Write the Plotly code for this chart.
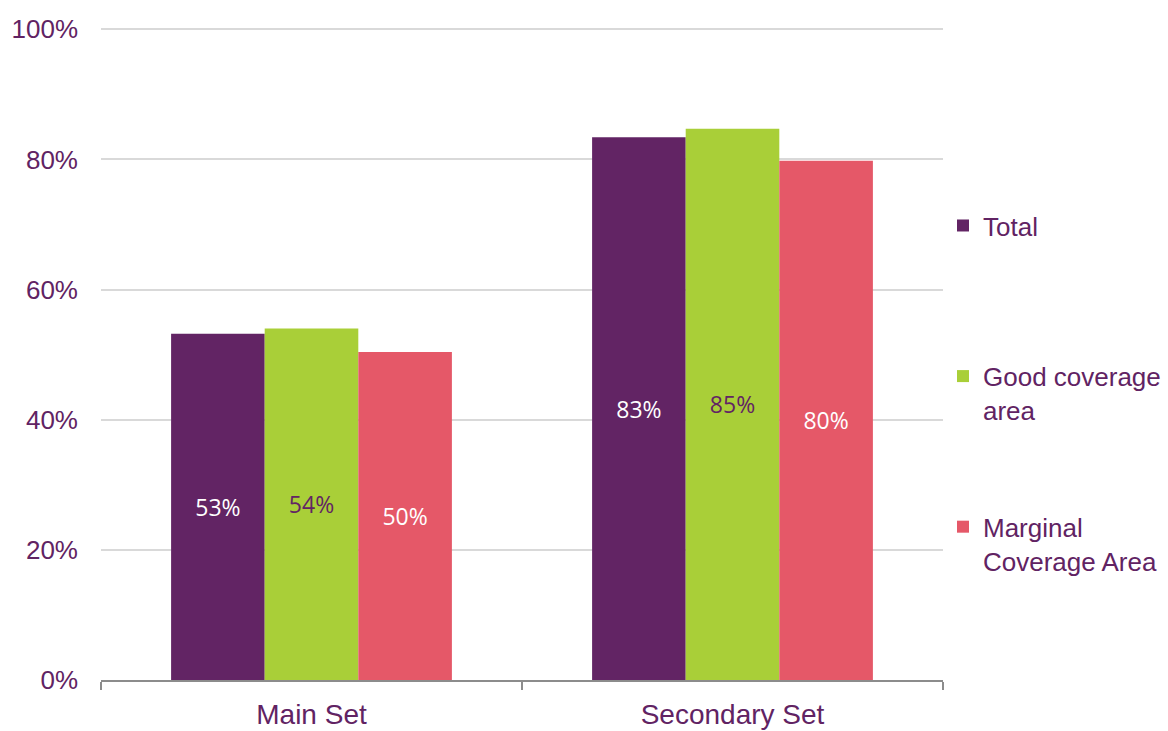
import plotly.graph_objects as go

# Coverage share by set and area type
categories = ["Main Set", "Secondary Set"]
series_names = ["Total<br> ", "Good coverage<br>area", "Marginal<br>Coverage Area"]
total = [0.532, 0.834]
good_coverage = [0.540, 0.847]
marginal_coverage = [0.504, 0.798]

bar_colors = ["#622464", "#A9CF38", "#E55868"]
label_colors = ["#FFFFFF", "#622464", "#FFFFFF"]
text_purple = "#612363"

fig = go.Figure()
for name, values, color, lcolor in zip(
    series_names, [total, good_coverage, marginal_coverage], bar_colors, label_colors
):
    fig.add_trace(
        go.Bar(
            x=categories,
            y=values,
            name=name,
            legendgroup=name,
            marker=dict(color=color, line=dict(width=0)),
            texttemplate="%{y:.0%}",
            textposition="inside",
            insidetextanchor="middle",
            textangle=0,
            textfont=dict(family="Open Sans", size=23, color=lcolor),
        )
    )

fig.update_layout(
    width=1168,
    height=731,
    margin=dict(l=101, r=225, t=28, b=51, autoexpand=False),
    paper_bgcolor="white",
    plot_bgcolor="white",
    barmode="group",
    bargap=0.333,
    bargroupgap=0,
    font=dict(family="Liberation Sans, Arial", color=text_purple),
    legend=dict(
        x=1.0,
        y=0.733,
        xanchor="left",
        yanchor="top",
        valign="top",
        tracegroupgap=80,
        font=dict(family="Liberation Sans, Arial", size=26, color=text_purple),
        bgcolor="rgba(0,0,0,0)",
    ),
    showlegend=True,
)

fig.update_xaxes(
    type="category",
    showline=True,
    linecolor="#8C8C8C",
    linewidth=2,
    ticks="outside",
    tickson="boundaries",
    ticklen=8,
    tickwidth=2,
    tickcolor="#8C8C8C",
    showgrid=False,
    ticklabelstandoff=8,
    tickfont=dict(family="Liberation Sans, Arial", size=28, color=text_purple),
)

fig.update_yaxes(
    range=[0, 1.002],
    dtick=0.2,
    tickformat=".0%",
    showgrid=True,
    gridcolor="#D9D9D9",
    gridwidth=2,
    zeroline=False,
    showline=False,
    ticks="",
    ticklabelstandoff=22,
    tickfont=dict(family="Liberation Sans, Arial", size=26, color=text_purple),
)

fig.write_html("out.html")
